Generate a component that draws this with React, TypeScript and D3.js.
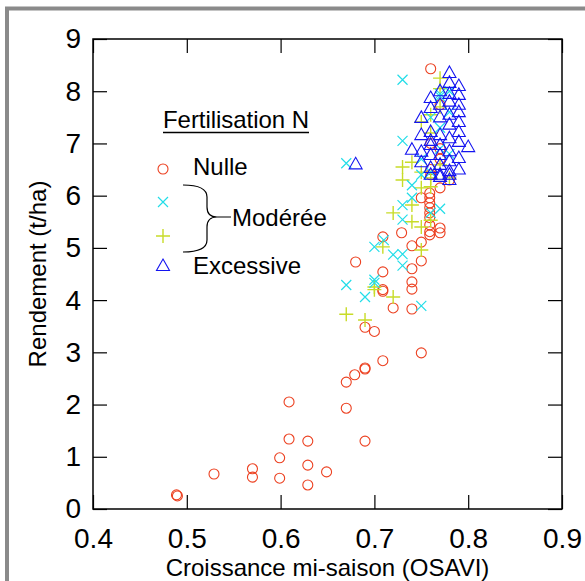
import React, { useEffect, useRef } from "react";
import * as d3 from "d3";

// Nulle (no N), circles
const nulle: [number, number][] = [
  [0.489, 0.27], [0.49, 0.25], [0.529, 0.67], [0.57, 0.77], [0.57, 0.61],
  [0.599, 0.98], [0.599, 0.59], [0.609, 2.05], [0.609, 1.34], [0.629, 1.3],
  [0.629, 0.84], [0.629, 0.46], [0.649, 0.71], [0.67, 2.43], [0.67, 1.93],
  [0.679, 2.57], [0.69, 2.68], [0.69, 2.7], [0.69, 1.3], [0.709, 2.84],
  [0.69, 3.48], [0.7, 3.4], [0.709, 4.2], [0.709, 4.17], [0.72, 3.85],
  [0.709, 5.21], [0.729, 5.29], [0.74, 5.04], [0.75, 5.11], [0.68, 4.73],
  [0.75, 4.75], [0.709, 4.54], [0.74, 4.6], [0.74, 4.35], [0.74, 4.21],
  [0.74, 3.83], [0.75, 2.99], [0.77, 6.15], [0.759, 6.05], [0.759, 5.96],
  [0.759, 5.86], [0.759, 5.77], [0.759, 5.67], [0.759, 5.58], [0.759, 5.44],
  [0.759, 5.31], [0.759, 5.25], [0.75, 5.96], [0.77, 5.38], [0.77, 5.29],
  [0.76, 8.43], [0.76, 7.0], [0.77, 7.74], [0.76, 6.5], [0.77, 6.7],
  [0.76, 6.4], [0.77, 6.9], [0.78, 6.3],
];

// Modérée, first treatment (x marks)
const moderee1: [number, number][] = [
  [0.67, 4.29], [0.7, 4.33], [0.69, 4.06], [0.7, 5.02], [0.72, 4.87],
  [0.73, 4.88], [0.73, 4.66], [0.7, 4.39], [0.75, 3.89], [0.71, 5.15],
  [0.73, 5.82], [0.73, 5.54], [0.74, 5.96], [0.77, 5.75], [0.76, 5.67],
  [0.75, 6.4], [0.73, 8.22], [0.73, 7.05], [0.67, 6.62], [0.77, 7.95],
  [0.78, 8.0], [0.77, 7.9], [0.78, 7.6], [0.77, 7.3], [0.76, 7.5],
  [0.77, 6.9], [0.78, 6.8], [0.76, 6.45], [0.74, 6.2], [0.75, 6.7],
];

// Modérée, second treatment (plus marks)
const moderee2: [number, number][] = [
  [0.67, 3.73], [0.69, 3.62], [0.7, 4.2], [0.72, 4.06], [0.709, 5.02],
  [0.75, 4.96], [0.73, 6.3], [0.74, 5.82], [0.72, 5.67], [0.74, 5.5],
  [0.75, 5.4], [0.7, 4.25], [0.76, 5.53], [0.76, 6.17], [0.75, 6.15],
  [0.77, 8.25], [0.77, 8.05], [0.75, 7.41], [0.73, 6.55], [0.74, 6.64],
  [0.76, 7.55], [0.76, 6.34], [0.77, 6.59], [0.75, 6.45], [0.78, 6.34],
  [0.77, 7.7], [0.76, 7.2],
];

// Excessive, triangles
const excessive: [number, number][] = [
  [0.68, 6.6], [0.78, 8.35], [0.78, 8.16], [0.79, 8.1], [0.79, 7.93],
  [0.79, 7.74], [0.76, 7.87], [0.76, 7.68], [0.75, 7.49], [0.76, 7.22],
  [0.75, 7.16], [0.74, 6.88], [0.75, 6.64], [0.8, 6.93], [0.77, 7.74],
  [0.78, 7.8], [0.79, 7.22], [0.79, 7.03], [0.77, 7.16], [0.77, 6.97],
  [0.77, 6.78], [0.77, 6.59], [0.77, 6.4], [0.78, 7.55], [0.78, 7.36],
  [0.78, 7.1], [0.78, 6.85], [0.78, 6.66], [0.78, 6.47], [0.78, 6.3],
  [0.79, 7.41], [0.79, 6.72], [0.76, 6.97], [0.76, 6.78], [0.76, 6.53],
  [0.75, 6.84], [0.76, 6.4], [0.77, 6.36], [0.78, 6.4], [0.77, 7.5],
  [0.78, 7.95], [0.79, 7.6], [0.76, 7.05], [0.77, 8.0], [0.79, 6.5],
];

const xTicks = [0.4, 0.5, 0.6, 0.7, 0.8, 0.9];
const yTicks = [0, 1, 2, 3, 4, 5, 6, 7, 8, 9];

const W = 585;
const H = 581;
const FONT = "'Liberation Sans', Arial, sans-serif";
const RED = "#ec4020";
const CYAN = "#22dde8";
const YELLOW = "#c8dc28";
const BLUE = "#1414f0";

const App = () => {
  const svgRef = useRef<SVGSVGElement | null>(null);

  useEffect(() => {
    const svg = d3.select(svgRef.current);
    svg.selectAll("*").remove();

    const m = { left: 93, right: 562, top: 39, bottom: 509 };
    const x = d3.scaleLinear().domain([0.4, 0.9]).range([m.left, m.right]);
    const y = d3.scaleLinear().domain([0, 9]).range([m.bottom, m.top]);

    svg.append("rect").attr("width", W).attr("height", H).attr("fill", "#fff");

    // grey outer frame (cut by the image on the right and bottom)
    svg
      .append("rect")
      .attr("x", 7)
      .attr("y", 8.5)
      .attr("width", W + 40)
      .attr("height", H + 40)
      .attr("fill", "none")
      .attr("stroke", "#8a8a8a")
      .attr("stroke-width", 4);

    const g = svg.append("g");

    const styleAxis = (sel: any) => {
      sel.selectAll("path").remove();
      sel.selectAll("line").attr("stroke", "#000").attr("stroke-width", 1.2);
      sel
        .selectAll("text")
        .attr("fill", "#000")
        .style("font-family", FONT)
        .style("font-size", "28px");
    };

    g.append("g")
      .attr("transform", `translate(0,${m.bottom})`)
      .call(
        d3.axisBottom(x).tickValues(xTicks).tickSize(-14).tickSizeOuter(0).tickPadding(19)
          .tickFormat(d3.format(".1f"))
      )
      .call(styleAxis);

    g.append("g")
      .attr("transform", `translate(0,${m.top})`)
      .call(d3.axisTop(x).tickValues(xTicks).tickSize(-14).tickSizeOuter(0).tickFormat(() => ""))
      .call(styleAxis);

    g.append("g")
      .attr("transform", `translate(${m.left},0)`)
      .call(d3.axisLeft(y).tickValues(yTicks).tickSize(-14).tickSizeOuter(0).tickPadding(12))
      .call(styleAxis);

    g.append("g")
      .attr("transform", `translate(${m.right},0)`)
      .call(d3.axisRight(y).tickValues(yTicks).tickSize(-14).tickSizeOuter(0).tickFormat(() => ""))
      .call(styleAxis);

    g.append("rect")
      .attr("x", m.left)
      .attr("y", m.top)
      .attr("width", m.right - m.left)
      .attr("height", m.bottom - m.top)
      .attr("fill", "none")
      .attr("stroke", "#000")
      .attr("stroke-width", 1.5);

    // axis titles
    svg
      .append("text")
      .attr("x", (m.left + m.right) / 2)
      .attr("y", 576)
      .attr("text-anchor", "middle")
      .style("font-family", FONT)
      .style("font-size", "24px")
      .text("Croissance mi-saison (OSAVI)");

    svg
      .append("text")
      .attr("transform", `translate(46,${(m.top + m.bottom) / 2}) rotate(-90)`)
      .attr("text-anchor", "middle")
      .style("font-family", FONT)
      .style("font-size", "24px")
      .text("Rendement (t/ha)");

    // marker drawers
    const circle = (sel: any, cx: number, cy: number) =>
      sel.append("circle").attr("cx", cx).attr("cy", cy).attr("r", 5)
        .attr("fill", "none").attr("stroke", RED).attr("stroke-width", 1.1);
    const cross = (sel: any, cx: number, cy: number) => {
      const s = 5;
      sel.append("path")
        .attr("d", `M${cx - s},${cy - s}L${cx + s},${cy + s}M${cx - s},${cy + s}L${cx + s},${cy - s}`)
        .attr("stroke", CYAN).attr("stroke-width", 1.2).attr("fill", "none");
    };
    const plus = (sel: any, cx: number, cy: number) => {
      const s = 7;
      sel.append("path")
        .attr("d", `M${cx - s},${cy}L${cx + s},${cy}M${cx},${cy - s}L${cx},${cy + s}`)
        .attr("stroke", YELLOW).attr("stroke-width", 1.4).attr("fill", "none");
    };
    const tri = (sel: any, cx: number, cy: number) => {
      sel.append("path")
        .attr("d", `M${cx},${cy - 7}L${cx + 6.5},${cy + 4.5}L${cx - 6.5},${cy + 4.5}Z`)
        .attr("stroke", BLUE).attr("stroke-width", 1.1).attr("fill", "none");
    };

    const pts = svg.append("g");
    nulle.forEach(([a, b]) => circle(pts, x(a), y(b)));
    moderee2.forEach(([a, b]) => plus(pts, x(a), y(b)));
    moderee1.forEach(([a, b]) => cross(pts, x(a), y(b)));
    excessive.forEach(([a, b]) => tri(pts, x(a), y(b)));

    // legend
    const lg = svg.append("g").style("font-family", FONT).style("font-size", "24px");
    lg.append("text").attr("x", 163).attr("y", 128).attr("textLength", 146).text("Fertilisation N");
    lg.append("line").attr("x1", 163).attr("x2", 309).attr("y1", 132.5).attr("y2", 132.5)
      .attr("stroke", "#000").attr("stroke-width", 1.3);
    circle(lg, 163, 169);
    lg.append("text").attr("x", 193).attr("y", 175).text("Nulle");
    cross(lg, 163, 202);
    plus(lg, 163, 236);
    tri(lg, 163, 266);
    lg.append("text").attr("x", 193).attr("y", 274).text("Excessive");
    lg.append("text").attr("x", 232).attr("y", 226).text("Modérée");
    lg.append("path")
      .attr("d", "M183,185Q207,185 207,197L207,207Q207,217 217,217L231,217M217,217Q207,217 207,227L207,240Q207,252 183,252")
      .attr("fill", "none").attr("stroke", "#000").attr("stroke-width", 1.2);
  }, []);

  return (
    <svg
      ref={svgRef}
      width={W}
      height={H}
      style={{ position: "absolute", left: 0, top: 0, display: "block" }}
    />
  );
};

export default App;
